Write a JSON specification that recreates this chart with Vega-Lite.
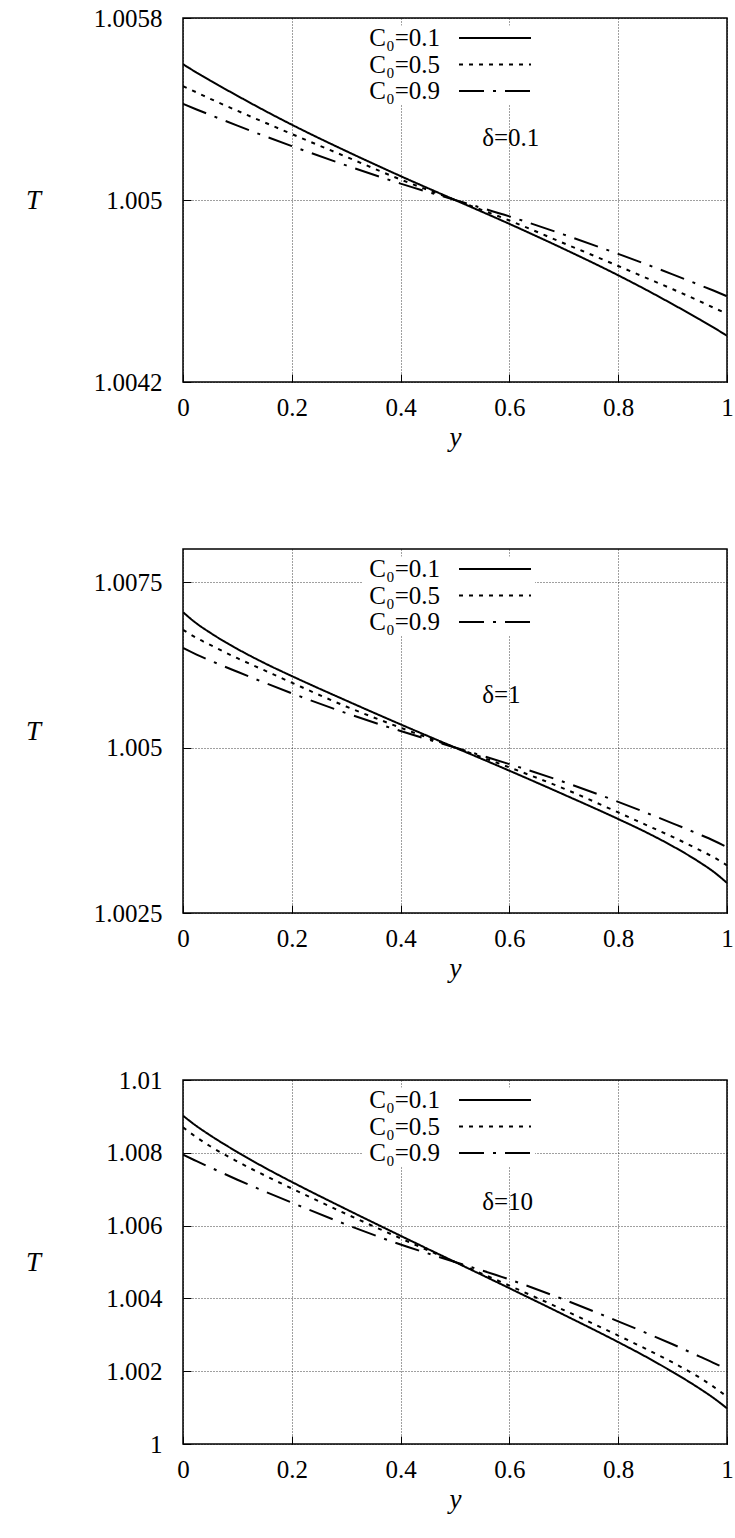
{
  "$schema": "https://vega.github.io/schema/vega-lite/v6.json",
  "padding": {"left": 24, "top": 5, "right": 5, "bottom": 5},
  "background": "white",
  "data": {"values": [
    {"d":0.1,"s":"C₀=0.1","y":0,"T":1.005597},{"d":0.1,"s":"C₀=0.1","y":0.025,"T":1.00556},{"d":0.1,"s":"C₀=0.1","y":0.05,"T":1.005525},{"d":0.1,"s":"C₀=0.1","y":0.1,"T":1.005458},{"d":0.1,"s":"C₀=0.1","y":0.15,"T":1.005393},{"d":0.1,"s":"C₀=0.1","y":0.2,"T":1.005331},{"d":0.1,"s":"C₀=0.1","y":0.3,"T":1.005215},{"d":0.1,"s":"C₀=0.1","y":0.4,"T":1.005105},{"d":0.1,"s":"C₀=0.1","y":0.5,"T":1.005},{"d":0.1,"s":"C₀=0.1","y":0.6,"T":1.004895},{"d":0.1,"s":"C₀=0.1","y":0.7,"T":1.004785},{"d":0.1,"s":"C₀=0.1","y":0.8,"T":1.004669},{"d":0.1,"s":"C₀=0.1","y":0.85,"T":1.004607},{"d":0.1,"s":"C₀=0.1","y":0.9,"T":1.004542},{"d":0.1,"s":"C₀=0.1","y":0.95,"T":1.004475},{"d":0.1,"s":"C₀=0.1","y":0.975,"T":1.00444},{"d":0.1,"s":"C₀=0.1","y":1,"T":1.004403},
    {"d":0.1,"s":"C₀=0.5","y":0,"T":1.0055},{"d":0.1,"s":"C₀=0.5","y":0.025,"T":1.005473},{"d":0.1,"s":"C₀=0.5","y":0.05,"T":1.005445},{"d":0.1,"s":"C₀=0.5","y":0.1,"T":1.005392},{"d":0.1,"s":"C₀=0.5","y":0.15,"T":1.005341},{"d":0.1,"s":"C₀=0.5","y":0.2,"T":1.00529},{"d":0.1,"s":"C₀=0.5","y":0.3,"T":1.00519},{"d":0.1,"s":"C₀=0.5","y":0.4,"T":1.00509},{"d":0.1,"s":"C₀=0.5","y":0.5,"T":1.005},{"d":0.1,"s":"C₀=0.5","y":0.6,"T":1.00491},{"d":0.1,"s":"C₀=0.5","y":0.7,"T":1.00481},{"d":0.1,"s":"C₀=0.5","y":0.8,"T":1.00471},{"d":0.1,"s":"C₀=0.5","y":0.85,"T":1.004659},{"d":0.1,"s":"C₀=0.5","y":0.9,"T":1.004608},{"d":0.1,"s":"C₀=0.5","y":0.95,"T":1.004555},{"d":0.1,"s":"C₀=0.5","y":0.975,"T":1.004527},{"d":0.1,"s":"C₀=0.5","y":1,"T":1.0045},
    {"d":0.1,"s":"C₀=0.9","y":0,"T":1.005423},{"d":0.1,"s":"C₀=0.9","y":0.025,"T":1.005398},{"d":0.1,"s":"C₀=0.9","y":0.05,"T":1.005374},{"d":0.1,"s":"C₀=0.9","y":0.1,"T":1.005327},{"d":0.1,"s":"C₀=0.9","y":0.15,"T":1.005281},{"d":0.1,"s":"C₀=0.9","y":0.2,"T":1.005237},{"d":0.1,"s":"C₀=0.9","y":0.3,"T":1.005152},{"d":0.1,"s":"C₀=0.9","y":0.4,"T":1.005072},{"d":0.1,"s":"C₀=0.9","y":0.5,"T":1.005},{"d":0.1,"s":"C₀=0.9","y":0.6,"T":1.004928},{"d":0.1,"s":"C₀=0.9","y":0.7,"T":1.004848},{"d":0.1,"s":"C₀=0.9","y":0.8,"T":1.004763},{"d":0.1,"s":"C₀=0.9","y":0.85,"T":1.004719},{"d":0.1,"s":"C₀=0.9","y":0.9,"T":1.004673},{"d":0.1,"s":"C₀=0.9","y":0.95,"T":1.004626},{"d":0.1,"s":"C₀=0.9","y":0.975,"T":1.004602},{"d":0.1,"s":"C₀=0.9","y":1,"T":1.004577},
    {"d":1,"s":"C₀=0.1","y":0,"T":1.007045},{"d":1,"s":"C₀=0.1","y":0.025,"T":1.006875},{"d":1,"s":"C₀=0.1","y":0.05,"T":1.006735},{"d":1,"s":"C₀=0.1","y":0.1,"T":1.00649},{"d":1,"s":"C₀=0.1","y":0.15,"T":1.006275},{"d":1,"s":"C₀=0.1","y":0.2,"T":1.00608},{"d":1,"s":"C₀=0.1","y":0.3,"T":1.00571},{"d":1,"s":"C₀=0.1","y":0.4,"T":1.00535},{"d":1,"s":"C₀=0.1","y":0.5,"T":1.005},{"d":1,"s":"C₀=0.1","y":0.6,"T":1.00465},{"d":1,"s":"C₀=0.1","y":0.7,"T":1.00429},{"d":1,"s":"C₀=0.1","y":0.8,"T":1.00392},{"d":1,"s":"C₀=0.1","y":0.85,"T":1.003725},{"d":1,"s":"C₀=0.1","y":0.9,"T":1.00351},{"d":1,"s":"C₀=0.1","y":0.95,"T":1.003265},{"d":1,"s":"C₀=0.1","y":0.975,"T":1.003125},{"d":1,"s":"C₀=0.1","y":1,"T":1.002955},
    {"d":1,"s":"C₀=0.5","y":0,"T":1.00678},{"d":1,"s":"C₀=0.5","y":0.025,"T":1.006655},{"d":1,"s":"C₀=0.5","y":0.05,"T":1.00655},{"d":1,"s":"C₀=0.5","y":0.1,"T":1.00635},{"d":1,"s":"C₀=0.5","y":0.15,"T":1.006165},{"d":1,"s":"C₀=0.5","y":0.2,"T":1.00598},{"d":1,"s":"C₀=0.5","y":0.3,"T":1.00562},{"d":1,"s":"C₀=0.5","y":0.4,"T":1.0053},{"d":1,"s":"C₀=0.5","y":0.5,"T":1.005},{"d":1,"s":"C₀=0.5","y":0.6,"T":1.0047},{"d":1,"s":"C₀=0.5","y":0.7,"T":1.00438},{"d":1,"s":"C₀=0.5","y":0.8,"T":1.00402},{"d":1,"s":"C₀=0.5","y":0.85,"T":1.003835},{"d":1,"s":"C₀=0.5","y":0.9,"T":1.00365},{"d":1,"s":"C₀=0.5","y":0.95,"T":1.00345},{"d":1,"s":"C₀=0.5","y":0.975,"T":1.003345},{"d":1,"s":"C₀=0.5","y":1,"T":1.00322},
    {"d":1,"s":"C₀=0.9","y":0,"T":1.006505},{"d":1,"s":"C₀=0.9","y":0.025,"T":1.006405},{"d":1,"s":"C₀=0.9","y":0.05,"T":1.006315},{"d":1,"s":"C₀=0.9","y":0.1,"T":1.006145},{"d":1,"s":"C₀=0.9","y":0.15,"T":1.00598},{"d":1,"s":"C₀=0.9","y":0.2,"T":1.00582},{"d":1,"s":"C₀=0.9","y":0.3,"T":1.00552},{"d":1,"s":"C₀=0.9","y":0.4,"T":1.00525},{"d":1,"s":"C₀=0.9","y":0.5,"T":1.005},{"d":1,"s":"C₀=0.9","y":0.6,"T":1.00475},{"d":1,"s":"C₀=0.9","y":0.7,"T":1.00448},{"d":1,"s":"C₀=0.9","y":0.8,"T":1.00418},{"d":1,"s":"C₀=0.9","y":0.85,"T":1.00402},{"d":1,"s":"C₀=0.9","y":0.9,"T":1.003855},{"d":1,"s":"C₀=0.9","y":0.95,"T":1.003685},{"d":1,"s":"C₀=0.9","y":0.975,"T":1.003595},{"d":1,"s":"C₀=0.9","y":1,"T":1.003495},
    {"d":10,"s":"C₀=0.1","y":0,"T":1.00902},{"d":10,"s":"C₀=0.1","y":0.025,"T":1.008733},{"d":10,"s":"C₀=0.1","y":0.05,"T":1.00848},{"d":10,"s":"C₀=0.1","y":0.1,"T":1.00802},{"d":10,"s":"C₀=0.1","y":0.15,"T":1.007595},{"d":10,"s":"C₀=0.1","y":0.2,"T":1.0072},{"d":10,"s":"C₀=0.1","y":0.3,"T":1.00645},{"d":10,"s":"C₀=0.1","y":0.4,"T":1.00572},{"d":10,"s":"C₀=0.1","y":0.5,"T":1.005},{"d":10,"s":"C₀=0.1","y":0.6,"T":1.00428},{"d":10,"s":"C₀=0.1","y":0.7,"T":1.00355},{"d":10,"s":"C₀=0.1","y":0.8,"T":1.0028},{"d":10,"s":"C₀=0.1","y":0.85,"T":1.002405},{"d":10,"s":"C₀=0.1","y":0.9,"T":1.00198},{"d":10,"s":"C₀=0.1","y":0.95,"T":1.00152},{"d":10,"s":"C₀=0.1","y":0.975,"T":1.001267},{"d":10,"s":"C₀=0.1","y":1,"T":1.00098},
    {"d":10,"s":"C₀=0.5","y":0,"T":1.0087},{"d":10,"s":"C₀=0.5","y":0.025,"T":1.008425},{"d":10,"s":"C₀=0.5","y":0.05,"T":1.00818},{"d":10,"s":"C₀=0.5","y":0.1,"T":1.00776},{"d":10,"s":"C₀=0.5","y":0.15,"T":1.00738},{"d":10,"s":"C₀=0.5","y":0.2,"T":1.00702},{"d":10,"s":"C₀=0.5","y":0.3,"T":1.00632},{"d":10,"s":"C₀=0.5","y":0.4,"T":1.00565},{"d":10,"s":"C₀=0.5","y":0.5,"T":1.005},{"d":10,"s":"C₀=0.5","y":0.6,"T":1.00435},{"d":10,"s":"C₀=0.5","y":0.7,"T":1.00368},{"d":10,"s":"C₀=0.5","y":0.8,"T":1.00298},{"d":10,"s":"C₀=0.5","y":0.85,"T":1.00262},{"d":10,"s":"C₀=0.5","y":0.9,"T":1.00224},{"d":10,"s":"C₀=0.5","y":0.95,"T":1.00182},{"d":10,"s":"C₀=0.5","y":0.975,"T":1.001575},{"d":10,"s":"C₀=0.5","y":1,"T":1.0013},
    {"d":10,"s":"C₀=0.9","y":0,"T":1.00795},{"d":10,"s":"C₀=0.9","y":0.025,"T":1.00777},{"d":10,"s":"C₀=0.9","y":0.05,"T":1.0076},{"d":10,"s":"C₀=0.9","y":0.1,"T":1.00726},{"d":10,"s":"C₀=0.9","y":0.15,"T":1.00694},{"d":10,"s":"C₀=0.9","y":0.2,"T":1.00663},{"d":10,"s":"C₀=0.9","y":0.3,"T":1.00603},{"d":10,"s":"C₀=0.9","y":0.4,"T":1.00548},{"d":10,"s":"C₀=0.9","y":0.5,"T":1.005},{"d":10,"s":"C₀=0.9","y":0.6,"T":1.00452},{"d":10,"s":"C₀=0.9","y":0.7,"T":1.00397},{"d":10,"s":"C₀=0.9","y":0.8,"T":1.00337},{"d":10,"s":"C₀=0.9","y":0.85,"T":1.00306},{"d":10,"s":"C₀=0.9","y":0.9,"T":1.00274},{"d":10,"s":"C₀=0.9","y":0.95,"T":1.0024},{"d":10,"s":"C₀=0.9","y":0.975,"T":1.00223},{"d":10,"s":"C₀=0.9","y":1,"T":1.00205}
  ]},
  "vconcat": [
    {
      "width": 544, "height": 364,
      "layer": [
        {
          "transform": [{"filter": "datum.d == 0.1"}],
          "mark": {"type": "line", "color": "black", "strokeWidth": 2, "interpolate": "monotone", "clip": true},
          "encoding": {
            "x": {"field": "y", "type": "quantitative", "scale": {"domain": [0, 1]}, "axis": {"values": [0, 0.2, 0.4, 0.6, 0.8, 1], "format": "~g", "title": "y"}},
            "y": {"field": "T", "type": "quantitative", "scale": {"domain": [1.0042, 1.0058], "zero": false}, "axis": {"values": [1.0042, 1.005, 1.0058], "format": ".4~f", "title": "T"}},
            "strokeDash": {"field": "s", "type": "nominal", "scale": {"domain": ["C₀=0.1", "C₀=0.5", "C₀=0.9"], "range": [[1, 0], [4, 6], [25, 9, 3, 9]]}, "legend": {"orient": "none", "legendX": 179, "legendY": 7.5}}
          }
        },
        {
          "data": {"values": [{"label": "δ=0.1"}]},
          "mark": {"type": "text", "align": "left", "baseline": "middle", "font": "Liberation Serif", "fontSize": 25, "color": "black"},
          "encoding": {"x": {"datum": 0.55}, "y": {"datum": 1.005273}, "text": {"field": "label"}}
        }
      ]
    },
    {
      "width": 544, "height": 364,
      "layer": [
        {
          "transform": [{"filter": "datum.d == 1"}],
          "mark": {"type": "line", "color": "black", "strokeWidth": 2, "interpolate": "monotone", "clip": true},
          "encoding": {
            "x": {"field": "y", "type": "quantitative", "scale": {"domain": [0, 1]}, "axis": {"values": [0, 0.2, 0.4, 0.6, 0.8, 1], "format": "~g", "title": "y"}},
            "y": {"field": "T", "type": "quantitative", "scale": {"domain": [1.0025, 1.0075], "zero": false}, "axis": {"values": [1.0025, 1.005, 1.0075], "format": ".4~f", "title": "T"}},
            "strokeDash": {"field": "s", "type": "nominal", "scale": {"domain": ["C₀=0.1", "C₀=0.5", "C₀=0.9"], "range": [[1, 0], [4, 6], [25, 9, 3, 9]]}, "legend": {"orient": "none", "legendX": 179, "legendY": 7.5}}
          }
        },
        {
          "data": {"values": [{"label": "δ=1"}]},
          "mark": {"type": "text", "align": "left", "baseline": "middle", "font": "Liberation Serif", "fontSize": 25, "color": "black"},
          "encoding": {"x": {"datum": 0.55}, "y": {"datum": 1.005797}, "text": {"field": "label"}}
        }
      ]
    },
    {
      "width": 544, "height": 364,
      "layer": [
        {
          "transform": [{"filter": "datum.d == 10"}],
          "mark": {"type": "line", "color": "black", "strokeWidth": 2, "interpolate": "monotone", "clip": true},
          "encoding": {
            "x": {"field": "y", "type": "quantitative", "scale": {"domain": [0, 1]}, "axis": {"values": [0, 0.2, 0.4, 0.6, 0.8, 1], "format": "~g", "title": "y"}},
            "y": {"field": "T", "type": "quantitative", "scale": {"domain": [1, 1.01], "zero": false}, "axis": {"values": [1, 1.002, 1.004, 1.006, 1.008, 1.01], "format": ".3~f", "title": "T"}},
            "strokeDash": {"field": "s", "type": "nominal", "scale": {"domain": ["C₀=0.1", "C₀=0.5", "C₀=0.9"], "range": [[1, 0], [4, 6], [25, 9, 3, 9]]}, "legend": {"orient": "none", "legendX": 179, "legendY": 7.5}}
          }
        },
        {
          "data": {"values": [{"label": "δ=10"}]},
          "mark": {"type": "text", "align": "left", "baseline": "middle", "font": "Liberation Serif", "fontSize": 25, "color": "black"},
          "encoding": {"x": {"datum": 0.55}, "y": {"datum": 1.006657}, "text": {"field": "label"}}
        }
      ]
    }
  ],
  "spacing": 167,
  "bounds": "flush",
  "resolve": {"scale": {"strokeDash": "independent", "y": "independent"}, "legend": {"strokeDash": "independent"}},
  "config": {
    "view": {"stroke": "black", "strokeWidth": 1.5},
    "axis": {
      "labelFont": "Liberation Serif", "labelFontSize": 25, "labelColor": "black",
      "titleFont": "Liberation Serif", "titleFontSize": 27, "titleFontStyle": "italic", "titleFontWeight": "normal", "titleColor": "black",
      "grid": true, "gridDash": [1, 2], "gridColor": "black", "gridOpacity": 0.75, "gridWidth": 1,
      "domain": false, "ticks": true, "tickColor": "black", "tickSize": -8, "tickWidth": 1
    },
    "axisX": {"labelPadding": 21, "titlePadding": 4, "labelFlush": false},
    "axisY": {"titleAngle": 0, "titleX": -150, "titleY": 182, "titleAlign": "center", "titleBaseline": "middle", "labelPadding": 29},
    "legend": {
      "title": null, "labelFont": "Liberation Serif", "labelFontSize": 25, "labelColor": "black",
      "labelAlign": "right", "labelBaseline": "middle", "labelOffset": -67.5,
      "symbolType": "M-8,0H8", "symbolSize": 81, "symbolStrokeWidth": 2, "symbolStrokeColor": "black", "symbolFillColor": "transparent",
      "symbolOffset": 120.5, "rowPadding": 0.5, "padding": 0, "fillColor": "white"
    }
  }
}
